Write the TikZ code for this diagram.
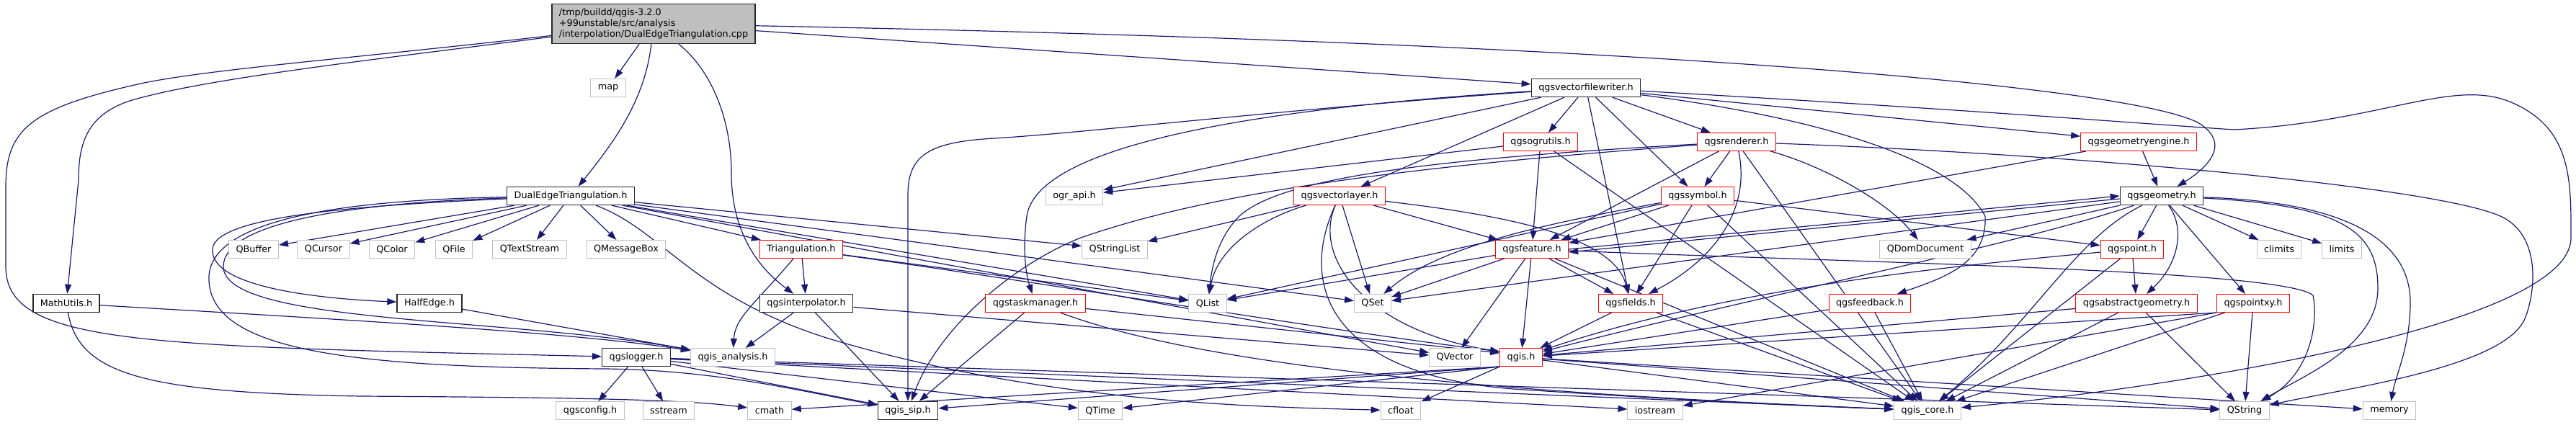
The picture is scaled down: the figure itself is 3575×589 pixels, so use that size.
\documentclass[tikz,border=0pt]{standalone}
\usepackage{fontspec}
\setmainfont{DejaVu Sans}
\usepackage{tikz}
\usetikzlibrary{arrows.meta, backgrounds}
\definecolor{dxEdge}{RGB}{25,25,112}
\definecolor{dxGrey}{RGB}{191,191,191}
\definecolor{dxRed}{RGB}{255,0,0}

\begin{document}
\begin{tikzpicture}[x=1pt, y=-1pt,
    hdr/.style={rectangle, draw=dxGrey, fill=white, line width=1pt,
                inner xsep=10pt, inner ysep=0pt, minimum height=25pt,
                font=\fontsize{12.8}{15}\selectfont},
    dochdr/.style={hdr, draw=black!85, line width=1.4pt},
    redhdr/.style={hdr, draw=dxRed},
    srchdr/.style={dochdr, fill=dxGrey, align=left, minimum height=55pt},
    dep/.style={draw=dxEdge, line width=1.2pt, -{Triangle[length=13pt,width=9pt]}}
]
\useasboundingbox (0,0) rectangle (3575,589);

% --- the file itself and its direct includes
\node[srchdr] (root) at (907,33)
  {/tmp/buildd/qgis-3.2.0\\+99unstable/src/analysis\\/interpolation/DualEdgeTriangulation.cpp};
\node[hdr] (map) at (844,122) {map};
\node[dochdr] (vfw) at (2201,122) {qgsvectorfilewriter.h};

\node[redhdr] (ogrutils) at (2138,197) {qgsogrutils.h};
\node[redhdr] (renderer) at (2410,197) {qgsrenderer.h};
\node[redhdr] (geomengine) at (2968,197) {qgsgeometryengine.h};

\node[dochdr] (det) at (792,272) {DualEdgeTriangulation.h};
\node[hdr] (ograpi) at (1491,272) {ogr\_api.h};
\node[redhdr] (vlayer) at (1859,272) {qgsvectorlayer.h};
\node[redhdr] (symbol) at (2356,272) {qgssymbol.h};
\node[dochdr] (geometry) at (3000,272) {qgsgeometry.h};

% --- row of Qt / std headers
\foreach \n/\x/\t in {qbuffer/352/QBuffer, qcursor/449/QCursor, qcolor/544/QColor,
    qfile/630/QFile, qtextstream/735/QTextStream, qmessagebox/869/QMessageBox,
    qstringlist/1547/QStringList, qdomdoc/2672/QDomDocument,
    climits/3163/climits, limits/3250/limits}
  \node[hdr] (\n) at (\x,346) {\t};
\node[redhdr] (triang) at (1112,346) {Triangulation.h};
\node[redhdr] (feature) at (2126,346) {qgsfeature.h};
\node[redhdr] (point) at (2959,346) {qgspoint.h};

\node[dochdr] (mathutils) at (92,421) {MathUtils.h};
\node[dochdr] (halfedge) at (596,421) {HalfEdge.h};
\node[dochdr] (interp) at (1119,421) {qgsinterpolator.h};
\node[redhdr] (taskmgr) at (1437,421) {qgstaskmanager.h};
\node[hdr] (qlist) at (1676,421) {QList};
\node[hdr] (qset) at (1905,421) {QSet};
\node[redhdr] (fields) at (2263,421) {qgsfields.h};
\node[redhdr] (feedback) at (2595,421) {qgsfeedback.h};
\node[redhdr] (absgeom) at (2965,421) {qgsabstractgeometry.h};
\node[redhdr] (pointxy) at (3127,421) {qgspointxy.h};

\node[dochdr] (logger) at (883,496) {qgslogger.h};
\node[hdr] (analysis) at (1017,496) {qgis\_analysis.h};
\node[hdr] (qvector) at (2019,496) {QVector};
\node[redhdr] (qgis) at (2111,496) {qgis.h};

\foreach \n/\x/\t in {qgsconfig/819/qgsconfig.h, sstream/928/sstream, cmath/1068/cmath,
    qtime/1527/QTime, cfloat/1944/cfloat, iostream/2297/iostream,
    core/2675/qgis\_core.h, qstring/3115/QString, memory/3316/memory}
  \node[hdr] (\n) at (\x,570) {\t};
\node[dochdr] (sip) at (1260,570) {qgis\_sip.h};

\begin{scope}[on background layer]
% root
\foreach \t in {map,vfw} \draw[dep] (root) -- (\t);
\draw[dep] (root) .. controls (895,140) and (850,200) .. (det);
\draw[dep] (root) .. controls (500,85) and (280,110) .. (180,140)
   .. controls (120,160) and (109,200) .. (109,250) -- (mathutils);
\draw[dep] (root) .. controls (500,80) and (300,95) .. (200,115)
   .. controls (40,150) and (8,180) .. (8,260) -- (8,370)
   .. controls (8,480) and (200,480) .. (logger);
\draw[dep] (root) .. controls (990,100) and (1015,170) .. (1015,240)
   .. controls (1015,320) and (1050,370) .. (interp);
\draw[dep] (root) .. controls (2300,60) and (2950,120) .. (3050,170)
   .. controls (3100,200) and (3060,235) .. (geometry);

% DualEdgeTriangulation.h
\foreach \t in {qbuffer,qcursor,qcolor,qfile,qtextstream,qmessagebox,
                triang,qstringlist,qlist,qset,qvector}
  \draw[dep] (det) -- (\t);
\draw[dep] (det) .. controls (500,285) and (300,300) .. (295,345)
   .. controls (290,400) and (450,415) .. (halfedge);
\draw[dep] (det) .. controls (480,282) and (310,310) .. (310,370)
   .. controls (310,450) and (700,440) .. (analysis);
\draw[dep] (det) .. controls (450,278) and (285,310) .. (290,390)
   .. controls (295,490) and (500,510) .. (840,512)
   .. controls (1000,514) and (1120,545) .. (sip);
\draw[dep] (det) .. controls (920,320) and (960,410) .. (1150,470)
   .. controls (1450,560) and (1750,565) .. (cfloat);

% Triangulation.h, qgsinterpolator.h, MathUtils.h, HalfEdge.h
\foreach \t in {interp,qlist} \draw[dep] (triang) -- (\t);
\draw[dep] (triang) .. controls (1050,420) and (1020,440) .. (analysis);
\draw[dep] (triang) .. controls (1500,400) and (1850,460) .. ([yshift=8pt]qgis.west);
\foreach \t in {analysis,sip,qvector} \draw[dep] (interp) -- (\t);
\draw[dep] (mathutils) .. controls (500,445) and (800,462) .. (analysis);
\draw[dep] (mathutils) .. controls (110,520) and (200,545) .. (500,550)
   .. controls (850,552) and (960,556) .. (cmath);
\draw[dep] (halfedge) -- (analysis);

% qgslogger.h
\foreach \t in {qgsconfig,sstream,sip,qtime,iostream,core,qstring}
  \draw[dep] (logger) -- (\t);

% qgsvectorfilewriter.h
\foreach \t in {ogrutils,vlayer,ograpi,renderer,symbol,fields,geomengine}
  \draw[dep] (vfw) -- (\t);
\draw[dep] (vfw) .. controls (1800,150) and (1500,185) .. (1380,192)
   .. controls (1290,197) and (1260,215) .. (1260,270) -- (sip);
\draw[dep] (vfw) .. controls (1750,150) and (1440,200) .. (1425,300)
   .. controls (1418,350) and (1425,385) .. (taskmgr);
\draw[dep] (vfw) .. controls (2500,160) and (2710,215) .. (2755,300)
   .. controls (2758,365) and (2700,385) .. (feedback);
\draw[dep] (vfw) .. controls (2700,150) and (2950,170) .. (3100,180)
   .. controls (3300,170) and (3400,110) .. (3480,140)
   .. controls (3570,175) and (3568,250) .. (3568,330)
   .. controls (3568,460) and (2950,545) .. (core);

% qgsogrutils.h, qgsrenderer.h
\foreach \t in {ograpi,feature,core} \draw[dep] (ogrutils) -- (\t);
\foreach \t in {symbol,feature,core} \draw[dep] (renderer) -- (\t);
\draw[dep] (renderer) .. controls (2000,220) and (1780,245) .. (1720,300)
   .. controls (1690,330) and (1682,370) .. (qlist);
\draw[dep] (renderer) .. controls (2000,228) and (1700,260) .. (1500,330)
   .. controls (1400,370) and (1300,460) .. (sip);
\draw[dep] (renderer) .. controls (2530,230) and (2620,280) .. (qdomdoc);
\draw[dep] (renderer) .. controls (2430,290) and (2380,360) .. (fields);
\draw[dep] (renderer) .. controls (2900,215) and (3380,260) .. (3470,300)
   .. controls (3525,325) and (3520,400) .. (3505,440)
   .. controls (3480,510) and (3250,540) .. (qstring);

% qgsvectorlayer.h, qgssymbol.h
\foreach \t in {qstringlist,qset,feature} \draw[dep] (vlayer) -- (\t);
\draw[dep] (vlayer) .. controls (1760,300) and (1690,340) .. (qlist);
\draw[dep] (vlayer) .. controls (2100,300) and (2240,330) .. (fields);
\draw[dep] (vlayer) .. controls (1820,360) and (1900,460) .. ([yshift=8pt]qgis.west);
\draw[dep] (vlayer) .. controls (1800,400) and (1850,520) .. (2100,540)
   .. controls (2400,560) and (2550,565) .. (core);
\foreach \t in {feature,qlist,fields,core,point} \draw[dep] (symbol) -- (\t);
\draw[dep] (symbol) .. controls (2150,310) and (2000,340) .. (qset);

% qgsfeature.h, qgsgeometryengine.h, qgsgeometry.h
\foreach \t in {qlist,qset,qvector,qgis,fields,core} \draw[dep] (feature) -- (\t);
\draw[dep] (feature.east) -- (geometry.west);
\draw[dep] ([yshift=-4pt]geometry.west) -- ([yshift=-4pt]feature.east);
\draw[dep] (feature) .. controls (2600,365) and (3170,375) .. (3210,410)
   .. controls (3218,450) and (3205,520) .. (qstring);
\foreach \t in {geometry,feature} \draw[dep] (geomengine) -- (\t);
\foreach \t in {qdomdoc,point,climits,limits,pointxy,qset}
  \draw[dep] (geometry) -- (\t);
\draw[dep] (geometry) .. controls (2800,340) and (2400,420) .. (qgis);
\draw[dep] (geometry) .. controls (3035,320) and (3020,370) .. (absgeom);
\draw[dep] (geometry) .. controls (2880,330) and (2820,450) .. (core);
\draw[dep] (geometry) .. controls (3250,285) and (3300,320) .. (3300,400)
   .. controls (3300,480) and (3200,520) .. (qstring);
\draw[dep] (geometry) .. controls (3250,280) and (3345,330) .. (3345,420)
   .. controls (3345,480) and (3325,520) .. (memory);

% qgspoint.h, qgsabstractgeometry.h, qgspointxy.h, qgsfeedback.h, qgsfields.h
\foreach \t in {absgeom,core} \draw[dep] (point) -- (\t);
\draw[dep] (point) .. controls (2700,370) and (2400,400) .. (qgis);
\foreach \t in {qgis,core,qstring} \draw[dep] (absgeom) -- (\t);
\foreach \t in {core,qstring} \draw[dep] (pointxy) -- (\t);
\foreach \t in {qgis,iostream} \draw[dep] (pointxy.south west) -- (\t);
\foreach \t in {core,qgis} \draw[dep] (feedback) -- (\t);
\foreach \t in {qgis,core} \draw[dep] (fields) -- (\t);

% qgis.h, qgstaskmanager.h
\foreach \t in {cmath,sip,qtime,cfloat} \draw[dep] (qgis.south west) -- (\t);
\foreach \t in {core,qstring,memory} \draw[dep] (qgis) -- (\t);
\draw[dep] (taskmgr) -- (sip);
\draw[dep] (taskmgr) -- ([yshift=6pt]qgis.west);
\draw[dep] (taskmgr) .. controls (1700,520) and (2200,550) .. (core);
\end{scope}
\end{tikzpicture}
\end{document}
